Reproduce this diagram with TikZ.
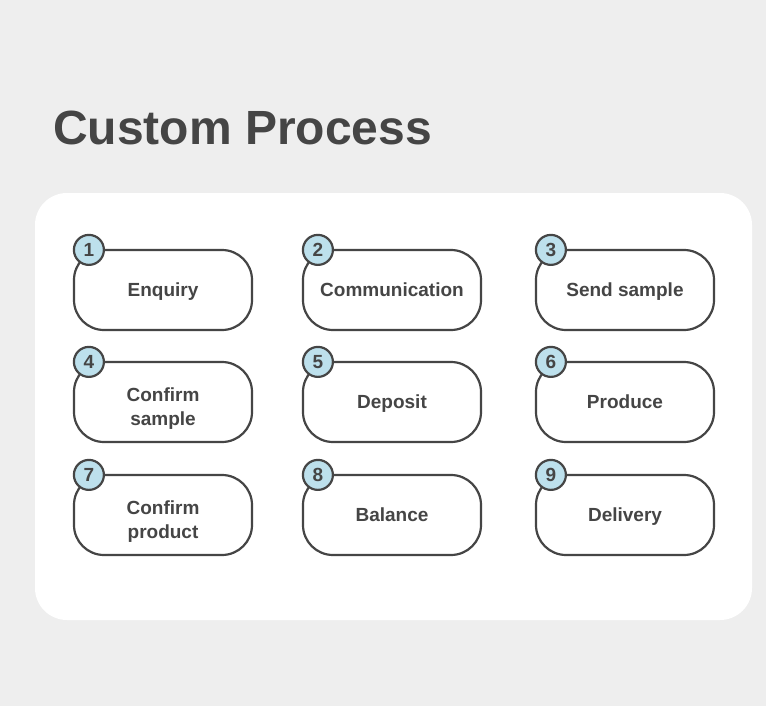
\documentclass[tikz,border=0pt]{standalone}
\usepackage{fontspec}
\setmainfont{Liberation Sans}
\definecolor{pagegray}{HTML}{EEEEEE}
\definecolor{inkgray}{HTML}{454545}
\definecolor{badgeblue}{HTML}{BDE0EC}

\begin{document}
\begin{tikzpicture}[
  x=1pt, y=-1pt,
  stepbox/.style={draw=inkgray, line width=2.2pt, rounded corners=30pt,
    fill=white, minimum width=178pt, minimum height=80pt, align=center,
    text=inkgray, font=\bfseries\fontsize{19}{24}\selectfont},
  oneline/.style={text height=18pt, text depth=4.75pt},
  twoline/.style={text height=50pt, text depth=4pt},
  badge/.style={circle, draw=inkgray, line width=2.2pt, fill=badgeblue,
    minimum size=30pt, inner sep=0pt, text=inkgray,
    font=\bfseries\fontsize{19}{19}\selectfont},
]
  % page and card
  \fill[pagegray] (0,0) rectangle (766,706);
  \useasboundingbox (0,0) rectangle (766,706);
  \fill[white, rounded corners=32pt] (35,193) rectangle (752,620);

  \node[anchor=base west, inner sep=0pt, text=inkgray,
    font=\bfseries\fontsize{48}{48}\selectfont] (title) at (53,145) {Custom Process};

  % the nine steps
  \foreach \num/\cx/\cy/\what/\lines in {
      1/163/290/Enquiry/oneline, 2/392/290/Communication/oneline,
      3/625/290/Send sample/oneline,
      4/163/402/{Confirm\\sample}/twoline, 5/392/402/Deposit/oneline,
      6/625/402/Produce/oneline,
      7/163/515/{Confirm\\product}/twoline, 8/392/515/Balance/oneline,
      9/625/515/Delivery/oneline} {
    \node[stepbox, \lines] (step\num) at (\cx,\cy) {\what};
    \node[badge] (badge\num) at ([xshift=16pt, yshift=-1pt]step\num.north west) {\num};
  }
\end{tikzpicture}
\end{document}
